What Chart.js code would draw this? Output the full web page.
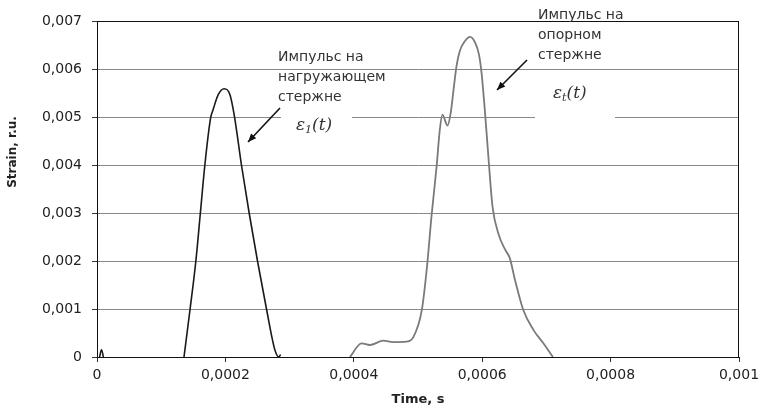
<!DOCTYPE html>
<html>
<head>
<meta charset="utf-8">
<script src="https://cdn.jsdelivr.net/npm/chart.js@4.4.0/dist/chart.umd.min.js"></script>
<style>
  html, body { margin: 0; padding: 0; background: #fff; }
  #wrap { width: 760px; height: 409px; }
</style>
</head>
<body>
<div id="wrap"><canvas id="myChart"></canvas></div>
<script>
// импульс на нагружающем стержне (чёрная линия)
var t1 = [0.000004, 0.000007, 0.00001, null,
  0.0001355, 0.000145, 0.000154, 0.000161, 0.000168, 0.000177, 0.000181, 0.000189, 0.000198,
  0.000207, 0.000214, 0.000225, 0.000237, 0.00025, 0.000264, 0.000277, 0.000283, 0.000286];
var s1 = [0, 0.00015, 0, null,
  0, 0.001, 0.002, 0.003, 0.004, 0.00498, 0.00516, 0.00547, 0.00559,
  0.00547, 0.00502, 0.004, 0.003, 0.002, 0.001, 0.00015, 0, 0.00005];

// импульс на опорном стержне (серая линия)
var t2 = [0.000394, 0.000412, 0.000425, 0.000446, 0.000461, 0.000482, 0.000493, 0.000506, 0.000514,
  0.000521, 0.000529, 0.000534, 0.000538, 0.000546, 0.000551, 0.000556, 0.00056, 0.000565, 0.000573,
  0.000581, 0.000589, 0.000595, 0.000599, 0.000604, 0.00061, 0.000616, 0.000625, 0.000636, 0.000643,
  0.000651, 0.000664, 0.00068, 0.000695, 0.000708, 0.00071];
var s2 = [0, 0.000285, 0.00025, 0.00034, 0.00031, 0.00032, 0.00042, 0.00098, 0.00188,
  0.00293, 0.00397, 0.00474, 0.00505, 0.00482, 0.00509, 0.00564, 0.00606, 0.00637, 0.00658,
  0.00667, 0.00655, 0.0063, 0.00592, 0.00516, 0.00411, 0.00314, 0.00258, 0.00223, 0.00206,
  0.00161, 0.00098, 0.00056, 0.00029, 0.00004, 0];

var xTicksStep = 0.0002;
var yTicksStep = 0.001;

function toPoints(xs, ys) {
    var pts = [];
    xs.forEach(function (x, i) {
        pts.push({ x: x === null ? NaN : x, y: ys[i] });
    });
    return pts;
}

function fmt(v) {
    if (Math.abs(v) < 1e-12) return '0';
    return String(+v.toFixed(5)).replace('.', ',');
}

// подписи, стрелки и белые плашки
const notes = {
    id: 'notes',
    beforeDatasetsDraw: function (chart) {
        const ctx = chart.ctx;
        ctx.save();
        ctx.fillStyle = '#fff';
        ctx.fillRect(281, 100, 71, 48);
        ctx.fillRect(535, 75, 80, 55);
        ctx.restore();
    },
    afterDraw: function (chart) {
        const ctx = chart.ctx;
        const a = chart.chartArea;
        ctx.save();
        ctx.strokeStyle = '#111';
        ctx.lineWidth = 1;
        ctx.strokeRect(a.left + 0.5, a.top + 0.5, a.right - a.left - 1, a.bottom - a.top);

        ctx.fillStyle = '#333';
        ctx.font = '14px "DejaVu Sans"';
        ctx.textBaseline = 'middle';
        ctx.textAlign = 'left';
        ctx.fillText('Импульс на', 278, 57);
        ctx.fillText('нагружающем', 278, 77);
        ctx.fillText('стержне', 278, 97);
        ctx.fillText('Импульс на', 538, 15);
        ctx.fillText('опорном', 538, 35);
        ctx.fillText('стержне', 538, 55);

        function eps(x, y, sub) {
            ctx.font = 'italic 17px "DejaVu Serif"';
            ctx.fillText('ε', x, y);
            var w = ctx.measureText('ε').width;
            ctx.font = 'italic 11px "DejaVu Serif"';
            ctx.fillText(sub, x + w, y + 4);
            var w2 = ctx.measureText(sub).width;
            ctx.font = 'italic 17px "DejaVu Serif"';
            ctx.fillText('(t)', x + w + w2, y);
        }
        eps(296, 126, '1');
        eps(553, 94, 't');

        function arrow(x1, y1, x2, y2) {
            ctx.strokeStyle = '#111';
            ctx.fillStyle = '#111';
            ctx.lineWidth = 1.6;
            ctx.beginPath();
            ctx.moveTo(x1, y1);
            ctx.lineTo(x2, y2);
            ctx.stroke();
            var ang = Math.atan2(y2 - y1, x2 - x1);
            ctx.beginPath();
            ctx.moveTo(x2, y2);
            ctx.lineTo(x2 - 9 * Math.cos(ang - 0.4), y2 - 9 * Math.sin(ang - 0.4));
            ctx.lineTo(x2 - 9 * Math.cos(ang + 0.4), y2 - 9 * Math.sin(ang + 0.4));
            ctx.closePath();
            ctx.fill();
        }
        arrow(280, 108, 248, 142);
        arrow(527, 60, 497, 90);

        // подпись оси Y
        ctx.fillStyle = '#222';
        ctx.font = 'bold 12px "DejaVu Sans"';
        ctx.textAlign = 'center';
        ctx.translate(13, 152);
        ctx.rotate(-Math.PI / 2);
        ctx.fillText('Strain, r.u.', 0, 0);
        ctx.restore();
    }
};

const config = {
    type: 'scatter',
    data: {
        datasets: [{
            label: 'eps1',
            data: toPoints(t1, s1),
            showLine: true,
            borderColor: '#1a1a1a',
            borderWidth: 1.6,
            pointRadius: 0,
            cubicInterpolationMode: 'monotone',
            spanGaps: false
        }, {
            label: 'epst',
            data: toPoints(t2, s2),
            showLine: true,
            borderColor: '#7a7a7a',
            borderWidth: 1.8,
            pointRadius: 0,
            cubicInterpolationMode: 'monotone'
        }]
    },
    options: {
        responsive: true,
        maintainAspectRatio: false,
        animation: false,
        layout: { padding: { top: 21, right: 21, left: 0, bottom: 0 } },
        plugins: {
            legend: { display: false },
            tooltip: { enabled: false }
        },
        scales: {
            x: {
                type: 'linear',
                min: 0,
                max: 0.001,
                afterFit: function (s) {
                    s.height = 52;
                    s.paddingLeft = 0;
                    s.paddingRight = 0;
                },
                border: { color: '#111', width: 1 },
                grid: { drawOnChartArea: false, tickLength: 5, tickColor: '#333' },
                ticks: {
                    stepSize: xTicksStep,
                    padding: 5,
                    color: '#222',
                    font: { family: 'DejaVu Sans', size: 14 },
                    maxRotation: 0,
                    callback: function (v) { return fmt(v); }
                },
                title: {
                    display: true,
                    text: 'Time, s',
                    color: '#222',
                    font: { family: 'DejaVu Sans', size: 13, weight: 'bold' },
                    padding: { top: 0, bottom: 2 }
                }
            },
            y: {
                min: 0,
                max: 0.007,
                afterFit: function (s) {
                    s.width = 97;
                    s.paddingTop = 0;
                    s.paddingBottom = 0;
                },
                border: { color: '#111', width: 1 },
                grid: { color: '#888', lineWidth: 1, tickLength: 5, tickColor: '#333' },
                ticks: {
                    stepSize: yTicksStep,
                    padding: 10,
                    color: '#222',
                    font: { family: 'DejaVu Sans', size: 14 },
                    callback: function (v) { return fmt(v); }
                }
            }
        }
    },
    plugins: [notes]
};

const myChart = new Chart(document.getElementById('myChart'), config);
</script>
</body>
</html>
